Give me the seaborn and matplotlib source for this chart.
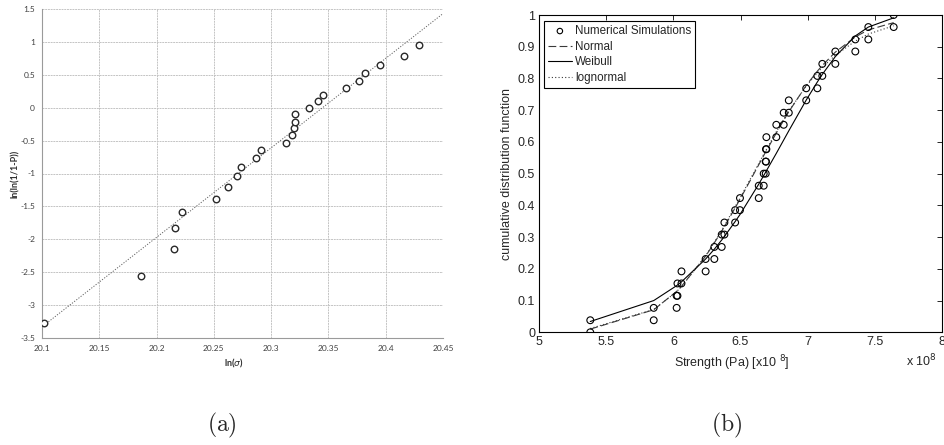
import numpy as np
import pandas as pd
import matplotlib
matplotlib.use("Agg")
import matplotlib.pyplot as plt
import seaborn as sns

# ---------------- panel (a): Weibull probability plot ----------------
ln_sigma = [20.102, 20.186, 20.215, 20.216, 20.222, 20.252, 20.262, 20.270,
            20.274, 20.287, 20.291, 20.313, 20.318, 20.320, 20.321, 20.321,
            20.333, 20.341, 20.345, 20.365, 20.377, 20.382, 20.395, 20.416,
            20.429]
lnln_p = [-3.27, -2.56, -2.14, -1.83, -1.58, -1.38, -1.20, -1.04, -0.90,
          -0.77, -0.64, -0.53, -0.42, -0.31, -0.21, -0.10, 0.00, 0.10, 0.20,
          0.30, 0.41, 0.52, 0.65, 0.79, 0.96]
trend_x = [20.10, 20.45]
trend_y = [-3.33, 1.43]
a_xticks = [20.1, 20.15, 20.2, 20.25, 20.3, 20.35, 20.4, 20.45]
a_xticklabels = ["20.1", "20.15", "20.2", "20.25", "20.3", "20.35", "20.4", "20.45"]
a_yticks = [-3.5, -3, -2.5, -2, -1.5, -1, -0.5, 0, 0.5, 1, 1.5]
a_yticklabels = ["-3.5", "-3", "-2.5", "-2", "-1.5", "-1", "-0.5", "0", "0.5", "1", "1.5"]

# ---------------- panel (b): cumulative distribution ----------------
strength = [5.380, 5.853, 6.024, 6.030, 6.060, 6.240, 6.305, 6.360, 6.380,
            6.460, 6.496, 6.636, 6.673, 6.688, 6.690, 6.693, 6.767, 6.822,
            6.860, 6.990, 7.073, 7.110, 7.207, 7.356, 7.453, 7.642]
cdf_levels = [0.000, 0.038, 0.077, 0.115, 0.154, 0.192, 0.231, 0.269, 0.308,
              0.346, 0.385, 0.423, 0.462, 0.500, 0.538, 0.577, 0.615, 0.654,
              0.692, 0.731, 0.769, 0.808, 0.846, 0.885, 0.923, 0.962, 1.000]
cdf_normal = [0.010, 0.071, 0.129, 0.132, 0.145, 0.240, 0.282, 0.319, 0.333,
              0.392, 0.419, 0.528, 0.557, 0.569, 0.570, 0.572, 0.628, 0.668,
              0.695, 0.778, 0.823, 0.841, 0.883, 0.931, 0.953, 0.976]
cdf_weibull = [0.034, 0.100, 0.147, 0.149, 0.159, 0.231, 0.262, 0.291, 0.302,
               0.349, 0.371, 0.467, 0.494, 0.505, 0.506, 0.509, 0.564, 0.606,
               0.635, 0.732, 0.789, 0.813, 0.869, 0.934, 0.962, 0.991]
cdf_lognormal = [0.012, 0.072, 0.128, 0.131, 0.144, 0.241, 0.284, 0.321, 0.336,
                 0.396, 0.423, 0.532, 0.561, 0.573, 0.574, 0.576, 0.632, 0.671,
                 0.697, 0.776, 0.818, 0.835, 0.873, 0.918, 0.940, 0.966]
b_xticks = [5, 5.5, 6, 6.5, 7, 7.5, 8]
b_xticklabels = ["5", "5.5", "6", "6.5", "7", "7.5", "8"]
b_yticks = [0, 0.1, 0.2, 0.3, 0.4, 0.5, 0.6, 0.7, 0.8, 0.9, 1]
b_yticklabels = ["0", "0.1", "0.2", "0.3", "0.4", "0.5", "0.6", "0.7", "0.8", "0.9", "1"]

# every sample contributes the bottom and top corner of its CDF step
sim = pd.DataFrame({
    "x": np.repeat(strength, 2),
    "y": np.ravel(np.column_stack([cdf_levels[:-1], cdf_levels[1:]])),
})

sns.set_style("white")
plt.rcParams["font.family"] = ["Liberation Sans", "DejaVu Sans"]

W, H = 945, 445
fig = plt.figure(figsize=(W / 100, H / 100), dpi=100)
fig.patch.set_facecolor("white")

# ---------- (a) ----------
axa = fig.add_axes([42 / W, 1 - 338 / H, 401 / W, 329 / H])
sns.lineplot(x=trend_x, y=trend_y, ax=axa, color="#606060", lw=0.7,
             linestyle=(0, (1.2, 1.6)), zorder=2)
sns.scatterplot(x=ln_sigma, y=lnln_p, ax=axa, marker="o", s=22,
                linewidth=1.0, zorder=3)
for coll in axa.collections:
    coll.set_facecolor("white")
    coll.set_edgecolor("#2a2a2a")
axa.set_xlim(20.1, 20.45)
axa.set_ylim(-3.5, 1.5)
axa.set_xticks(a_xticks, a_xticklabels)
axa.set_yticks(a_yticks, a_yticklabels)
axa.grid(True, color="#c4c4c4", lw=0.7, linestyle=(0, (2, 0.8)))
axa.set_axisbelow(True)
for side in ["top", "right"]:
    axa.spines[side].set_visible(False)
for side in ["left", "bottom"]:
    axa.spines[side].set_color("#9a9a9a")
    axa.spines[side].set_linewidth(0.8)
axa.tick_params(length=0, labelsize=6, labelcolor="#404040", pad=5)
for lab in axa.get_xticklabels() + axa.get_yticklabels():
    lab.set_family(["Lato", "DejaVu Sans"])
axa.set_xlabel(r"ln($\sigma$)", fontsize=6.5, fontweight="bold",
               family=["Lato", "DejaVu Sans"], color="#303030")
axa.set_ylabel("ln(ln(1/1-P))", fontsize=6.5, fontweight="bold",
               family=["Lato", "DejaVu Sans"], color="#303030")
axa.xaxis.set_label_coords(0.478, -0.058)
axa.yaxis.set_label_coords(-0.056, 0.5)

# ---------- (b) ----------
axb = fig.add_axes([539.3 / W, 1 - 332.3 / H, 402.4 / W, 317.3 / H])
sns.scatterplot(data=sim, x="x", y="y", ax=axb, marker="o", s=24,
                linewidth=0.8, label="Numerical Simulations", zorder=3)
for coll in axb.collections:
    coll.set_facecolor("none")
    coll.set_edgecolor("black")
sns.lineplot(x=strength, y=cdf_normal, ax=axb, color="#3a3a3a", lw=0.8,
             linestyle=(0, (7, 3)), label="Normal", sort=False, estimator=None)
sns.lineplot(x=strength, y=cdf_weibull, ax=axb, color="black", lw=0.8,
             linestyle="-", label="Weibull", sort=False, estimator=None)
sns.lineplot(x=strength, y=cdf_lognormal, ax=axb, color="#3a3a3a", lw=0.8,
             linestyle=(0, (1, 2)), label="lognormal", sort=False, estimator=None)
axb.set_xlim(5, 8)
axb.set_ylim(0, 1)
axb.set_xticks(b_xticks, b_xticklabels)
axb.set_yticks(b_yticks, b_yticklabels)
for side in axb.spines.values():
    side.set_color("black")
    side.set_linewidth(0.8)
axb.tick_params(direction="in", top=True, right=True, length=3.6, width=0.7,
                labelsize=9, labelcolor="#262626", pad=3)
axb.set_xlabel(r"Strength (Pa) [x10 ${}^{8}$]", fontsize=9, color="#262626")
axb.set_ylabel("cumulative distribution function", fontsize=9, color="#262626")
axb.xaxis.set_label_coords(0.478, -0.066)
axb.yaxis.set_label_coords(-0.066, 0.5)
leg = axb.legend(loc="upper left", bbox_to_anchor=(0.012, 0.981),
                 borderaxespad=0, fontsize=8.4, frameon=True, fancybox=False,
                 framealpha=1, edgecolor="black", handlelength=2.0,
                 handletextpad=0.3, labelspacing=0.3, borderpad=0.35,
                 markerscale=0.8)
leg.get_frame().set_linewidth(0.8)
for t in leg.get_texts():
    t.set_color("#262626")
fig.text(937 / W, 1 - 361 / H, r"x 10$^{8}$", fontsize=9, color="#262626",
         ha="right", va="center")

# ---------- captions ----------
fig.text(222 / W, 1 - 425 / H, r"$\mathrm{(a)}$", math_fontfamily="cm",
         fontsize=17, ha="center", va="center")
fig.text(727 / W, 1 - 425 / H, r"$\mathrm{(b)}$", math_fontfamily="cm",
         fontsize=17, ha="center", va="center")

fig.savefig("out.png", dpi=100, facecolor="white")
